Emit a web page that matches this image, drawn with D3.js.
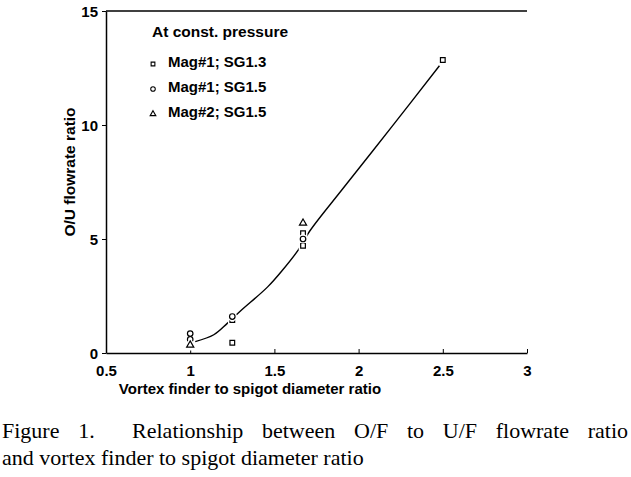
<!DOCTYPE html>
<html><head><meta charset="utf-8">
<script src="https://d3js.org/d3.v7.min.js"></script>
<style>
body{margin:0;background:#fff;}
text{font-family:"Liberation Sans",Arial,sans-serif;fill:#000;}
.cap{font-family:"Liberation Serif","Times New Roman",serif;white-space:pre;}
</style></head><body>
<script>
const xTicks = [0.5, 1, 1.5, 2, 2.5, 3];
const xTickLabels = ["0.5", "1", "1.5", "2", "2.5", "3"];
const yTicks = [0, 5, 10, 15];
const yTickLabels = ["0", "5", "10", "15"];
// Mag#1; SG1.3 (squares)
const sg13X = [1, 1, 1.25, 1.25, 1.67, 1.67, 2.5];
const sg13Y = [0.45, 0.3, 1.45, 0.45, 5.25, 4.7, 12.85];
// Mag#1; SG1.5 (circles)
const sg15X = [1, 1, 1.25, 1.67];
const sg15Y = [0.85, 0.6, 1.6, 5.0];
// Mag#2; SG1.5 (triangles)
const mag2X = [1, 1.67];
const mag2Y = [0.35, 5.7];
// fitted curve
const fitX = [1.03, 1.14, 1.22, 1.3, 1.46, 1.55, 1.64, 1.71, 1.9, 2.2, 2.48];
const fitY = [0.5, 0.8, 1.3, 1.85, 2.9, 3.65, 4.5, 5.35, 7.15, 9.95, 12.6];
const legendTitle = "At const. pressure";
const legendLabels = ["Mag#1; SG1.3", "Mag#1; SG1.5", "Mag#2; SG1.5"];
const xTitle = "Vortex finder to spigot diameter ratio";
const yTitle = "O/U flowrate ratio";
const caption1 = "Figure 1.  Relationship between O/F to U/F flowrate ratio";
const caption2 = "and vortex finder to spigot diameter ratio";

const W = 631, H = 477;
const svg = d3.select("body").append("svg").attr("width", W).attr("height", H);
const x = d3.scaleLinear().domain([0.5, 3]).range([106, 527]);
const y = d3.scaleLinear().domain([0, 15]).range([353, 11]);

// axes
const gx = svg.append("g").attr("transform", `translate(0,${y(0)})`)
  .call(d3.axisBottom(x).tickValues(xTicks).tickFormat((d,i)=>xTickLabels[i]).tickSizeInner(-4).tickSizeOuter(0).tickPadding(10));
const gy = svg.append("g").attr("transform", `translate(${x(0.5)},0)`)
  .call(d3.axisLeft(y).tickValues(yTicks).tickFormat((d,i)=>yTickLabels[i]).tickSizeInner(4).tickSizeOuter(0).tickPadding(4));
[gx, gy].forEach(g => {
  g.select(".domain").attr("stroke", "#000").attr("stroke-width", 1.5);
  g.selectAll(".tick line").attr("stroke", "#000").attr("stroke-width", 1);
  g.selectAll(".tick text").attr("font-size", 15).attr("font-weight", "bold")
    .attr("font-family", "Liberation Sans, Arial, sans-serif").attr("fill", "#000");
});
gx.selectAll(".tick text").attr("dy", "0.85em");
gy.selectAll(".tick text").attr("dy", "0.35em");
// top border
svg.append("line").attr("x1", x(0.5)).attr("x2", x(3)).attr("y1", y(15)).attr("y2", y(15))
  .attr("stroke", "#000").attr("stroke-width", 1.5);

// curve
const line = d3.line().x(d => x(d[0])).y(d => y(d[1])).curve(d3.curveCatmullRom);
svg.append("path").datum(fitX.map((v,i)=>[v, fitY[i]]))
  .attr("d", line).attr("fill", "none").attr("stroke", "#000").attr("stroke-width", 1.4);

// markers
const sq = d3.symbol().type(d3.symbolSquare).size(22);
const ci = d3.symbol().type(d3.symbolCircle).size(24);
const tr = d3.symbol().type(d3.symbolTriangle).size(22);
function drawSeries(xs, ys, sym){
  const pts = xs.map((v,i)=>[v, ys[i]]);
  svg.append("g").selectAll("path").data(pts).join("path")
    .attr("d", sym).attr("transform", d=>`translate(${x(d[0])},${y(d[1])})`)
    .attr("fill", "#fff").attr("stroke", "#fff").attr("stroke-width", 4);
  svg.append("g").selectAll("path").data(pts).join("path")
    .attr("d", sym).attr("transform", d=>`translate(${x(d[0])},${y(d[1])})`)
    .attr("fill", "#fff").attr("stroke", "#000").attr("stroke-width", 1.2);
}
drawSeries(sg13X, sg13Y, sq);
drawSeries(sg15X, sg15Y, ci);
drawSeries(mag2X, mag2Y, tr);

// legend
svg.append("text").attr("x", 152).attr("y", 32).attr("dy", "0.35em").attr("font-size", 15.5)
  .attr("font-weight", "bold").text(legendTitle);
const legSyms = [d3.symbol().type(d3.symbolSquare).size(14), d3.symbol().type(d3.symbolCircle).size(16), d3.symbol().type(d3.symbolTriangle).size(14)];
const legY = [62, 87, 112];
legendLabels.forEach((t,i)=>{
  svg.append("path").attr("d", legSyms[i]).attr("transform", `translate(153,${legY[i]+2})`)
    .attr("fill", "#fff").attr("stroke", "#000").attr("stroke-width", 1.1);
  svg.append("text").attr("x", 168).attr("y", legY[i]).attr("dy", "0.35em").attr("font-size", 15)
    .attr("font-weight", "bold").text(t);
});

// axis titles
svg.append("text").attr("x", 250).attr("y", 394).attr("text-anchor", "middle").attr("font-size", 15)
  .attr("font-weight", "bold").text(xTitle);
svg.append("text").attr("transform", "translate(70,172) rotate(-90)").attr("text-anchor", "middle")
  .attr("dy", "0.35em").attr("font-size", 15.5).attr("font-weight", "bold").text(yTitle);

// caption (first line justified to full width)
const c1 = svg.append("text").attr("class", "cap").attr("x", 2).attr("y", 438).attr("font-size", 22)
  .text(caption1);
const w1 = c1.node().getComputedTextLength();
const nSp = caption1.split(" ").length - 1;
c1.attr("word-spacing", ((626 - w1) / nSp).toFixed(2));
svg.append("text").attr("class", "cap").attr("x", 2).attr("y", 465).attr("font-size", 22)
  .text(caption2);
</script>
</body></html>
